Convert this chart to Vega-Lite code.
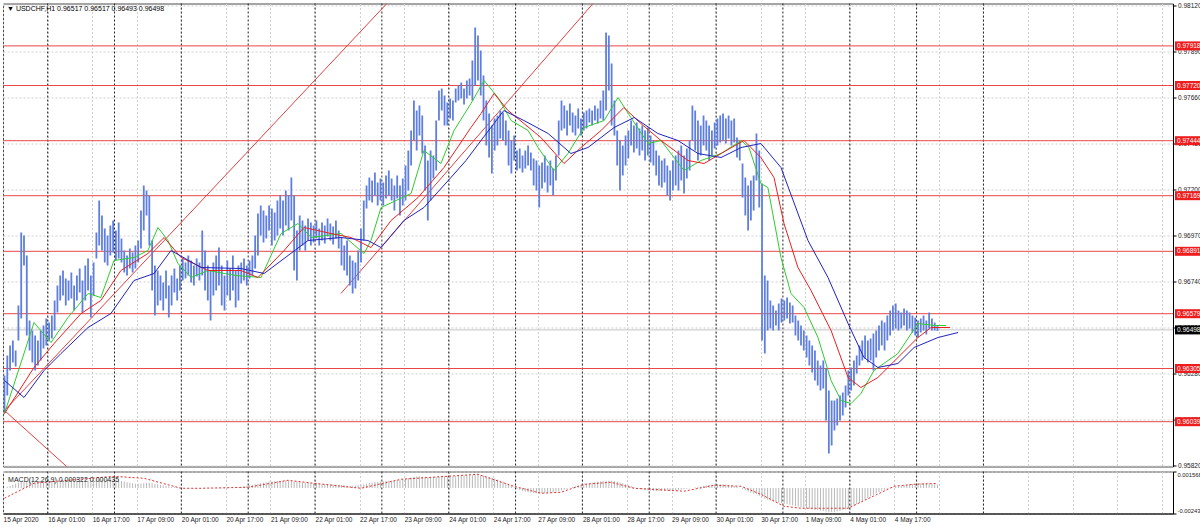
{
"$schema": "https://vega.github.io/schema/vega-lite/v6.json",
"background": "white",
"padding": {"left": 2, "top": 1.5, "right": 0, "bottom": 0},
"spacing": 1,
"config": {
 "font": "Liberation Sans",
 "view": {"stroke": "#4a4a4a", "strokeWidth": 1},
 "axis": {"labelFont": "Liberation Sans", "labelFontSize": 6.5, "labelColor": "#222", "tickColor": "#000", "domainColor": "#000", "gridColor": "#cfcfcf", "gridDash": [2, 2], "gridWidth": 1}
},
"datasets": {
 "seps": [{"i":15.5},{"i":39.5},{"i":63.5},{"i":87.5},{"i":111.5},{"i":135.5},{"i":159.5},{"i":183.5},{"i":207.5},{"i":231.5},{"i":255.5},{"i":279.5},{"i":303.5},{"i":327.5},{"i":351.5}],
 "levels": [{"p":0.97918},{"p":0.97720},{"p":0.97444},{"p":0.97169},{"p":0.96891},{"p":0.96579},{"p":0.96305},{"p":0.96039}],
 "bid": [{"p":0.96498}],
 "diag": [{"id":"A","i":0,"p":0.96095},{"id":"A","i":137.3,"p":0.98130},{"id":"B","i":120.8,"p":0.96680},{"id":"B","i":211.3,"p":0.98130},{"id":"C","i":0,"p":0.96095},{"id":"C","i":27.5,"p":0.95750}],
 "bars": [
{"i":0,"h":0.96270,"l":0.96080,"m":0},
{"i":1,"h":0.96370,"l":0.96170,"m":0.0001},
{"i":2,"h":0.96420,"l":0.96295,"m":0.0002},
{"i":3,"h":0.96445,"l":0.96335,"m":0.0003},
{"i":4,"h":0.96395,"l":0.96315,"m":0.0004},
{"i":5,"h":0.96620,"l":0.96445,"m":0.0005},
{"i":6,"h":0.96985,"l":0.96555,"m":0.0006},
{"i":7,"h":0.96970,"l":0.96820,"m":0.0006},
{"i":8,"h":0.96870,"l":0.96470,"m":0.00065},
{"i":9,"h":0.96545,"l":0.96395,"m":0.0007},
{"i":10,"h":0.96495,"l":0.96335,"m":0.0007},
{"i":11,"h":0.96470,"l":0.96295,"m":0.00068},
{"i":12,"h":0.96445,"l":0.96320,"m":0.00066},
{"i":13,"h":0.96495,"l":0.96345,"m":0.00064},
{"i":14,"h":0.96520,"l":0.96405,"m":0.00062},
{"i":15,"h":0.96555,"l":0.96420,"m":0.0006},
{"i":16,"h":0.96535,"l":0.96445,"m":0.0006},
{"i":17,"h":0.96570,"l":0.96455,"m":0.0006},
{"i":18,"h":0.96645,"l":0.96495,"m":0.00062},
{"i":19,"h":0.96720,"l":0.96585,"m":0.00065},
{"i":20,"h":0.96770,"l":0.96645,"m":0.00068},
{"i":21,"h":0.96795,"l":0.96670,"m":0.0007},
{"i":22,"h":0.96755,"l":0.96620,"m":0.0007},
{"i":23,"h":0.96745,"l":0.96645,"m":0.0007},
{"i":24,"h":0.96785,"l":0.96655,"m":0.0007},
{"i":25,"h":0.96720,"l":0.96595,"m":0.00068},
{"i":26,"h":0.96770,"l":0.96645,"m":0.00066},
{"i":27,"h":0.96805,"l":0.96685,"m":0.00066},
{"i":28,"h":0.96745,"l":0.96585,"m":0.00066},
{"i":29,"h":0.96820,"l":0.96645,"m":0.00068},
{"i":30,"h":0.96855,"l":0.96695,"m":0.0007},
{"i":31,"h":0.96770,"l":0.96560,"m":0.00075},
{"i":32,"h":0.96835,"l":0.96670,"m":0.0008},
{"i":33,"h":0.96985,"l":0.96855,"m":0.00082},
{"i":34,"h":0.97145,"l":0.96920,"m":0.00082},
{"i":35,"h":0.97070,"l":0.96895,"m":0.0008},
{"i":36,"h":0.97005,"l":0.96835,"m":0.0008},
{"i":37,"h":0.96970,"l":0.96820,"m":0.00078},
{"i":38,"h":0.97020,"l":0.96870,"m":0.00076},
{"i":39,"h":0.97045,"l":0.96885,"m":0.00074},
{"i":40,"h":0.96995,"l":0.96845,"m":0.00072},
{"i":41,"h":0.97035,"l":0.96855,"m":0.0007},
{"i":42,"h":0.96955,"l":0.96835,"m":0.00066},
{"i":43,"h":0.96895,"l":0.96785,"m":0.0006},
{"i":44,"h":0.96870,"l":0.96770,"m":0.00055},
{"i":45,"h":0.96905,"l":0.96805,"m":0.0005},
{"i":46,"h":0.96885,"l":0.96785,"m":0.00045},
{"i":47,"h":0.96920,"l":0.96805,"m":0.0004},
{"i":48,"h":0.96945,"l":0.96835,"m":0.0004},
{"i":49,"h":0.97095,"l":0.96905,"m":0.00042},
{"i":50,"h":0.97220,"l":0.96995,"m":0.00045},
{"i":51,"h":0.97195,"l":0.97070,"m":0.00048},
{"i":52,"h":0.97170,"l":0.96920,"m":0.0005},
{"i":53,"h":0.96945,"l":0.96695,"m":0.00045},
{"i":54,"h":0.96820,"l":0.96570,"m":0.0004},
{"i":55,"h":0.96795,"l":0.96620,"m":0.00035},
{"i":56,"h":0.96770,"l":0.96645,"m":0.0003},
{"i":57,"h":0.96735,"l":0.96595,"m":0.00025},
{"i":58,"h":0.96795,"l":0.96655,"m":0.0002},
{"i":59,"h":0.96720,"l":0.96560,"m":0.00015},
{"i":60,"h":0.96770,"l":0.96620,"m":0.0001},
{"i":61,"h":0.96805,"l":0.96685,"m":0.00008},
{"i":62,"h":0.96755,"l":0.96645,"m":0.00005},
{"i":63,"h":0.96820,"l":0.96695,"m":0.00003},
{"i":64,"h":0.96855,"l":0.96745,"m":0.00002},
{"i":65,"h":0.96835,"l":0.96755,"m":0},
{"i":66,"h":0.96870,"l":0.96770,"m":-0.00002},
{"i":67,"h":0.96845,"l":0.96735,"m":-0.00003},
{"i":68,"h":0.96820,"l":0.96720,"m":-0.00004},
{"i":69,"h":0.96855,"l":0.96765,"m":-0.00003},
{"i":70,"h":0.96835,"l":0.96745,"m":-0.00002},
{"i":71,"h":0.96995,"l":0.96770,"m":0},
{"i":72,"h":0.96895,"l":0.96695,"m":0.00002},
{"i":73,"h":0.96820,"l":0.96645,"m":0.00003},
{"i":74,"h":0.96795,"l":0.96545,"m":0.00002},
{"i":75,"h":0.96835,"l":0.96670,"m":0},
{"i":76,"h":0.96870,"l":0.96695,"m":-0.00002},
{"i":77,"h":0.96910,"l":0.96720,"m":-0.00003},
{"i":78,"h":0.96820,"l":0.96620,"m":-0.00004},
{"i":79,"h":0.96770,"l":0.96595,"m":-0.00004},
{"i":80,"h":0.96845,"l":0.96670,"m":-0.00003},
{"i":81,"h":0.96805,"l":0.96645,"m":-0.00002},
{"i":82,"h":0.96870,"l":0.96695,"m":0},
{"i":83,"h":0.96795,"l":0.96610,"m":0.00003},
{"i":84,"h":0.96820,"l":0.96645,"m":0.00005},
{"i":85,"h":0.96835,"l":0.96730,"m":0.0001},
{"i":86,"h":0.96855,"l":0.96745,"m":0.00015},
{"i":87,"h":0.96820,"l":0.96720,"m":0.0002},
{"i":88,"h":0.96845,"l":0.96755,"m":0.00025},
{"i":89,"h":0.96870,"l":0.96770,"m":0.0003},
{"i":90,"h":0.96970,"l":0.96805,"m":0.00035},
{"i":91,"h":0.97080,"l":0.96870,"m":0.0004},
{"i":92,"h":0.97120,"l":0.96970,"m":0.00045},
{"i":93,"h":0.97095,"l":0.96935,"m":0.0005},
{"i":94,"h":0.97070,"l":0.96955,"m":0.00055},
{"i":95,"h":0.97120,"l":0.96995,"m":0.0006},
{"i":96,"h":0.97105,"l":0.96920,"m":0.00062},
{"i":97,"h":0.97085,"l":0.96945,"m":0.00064},
{"i":98,"h":0.97145,"l":0.96970,"m":0.00066},
{"i":99,"h":0.97170,"l":0.97005,"m":0.00068},
{"i":100,"h":0.97145,"l":0.96970,"m":0.0007},
{"i":101,"h":0.97195,"l":0.97020,"m":0.0007},
{"i":102,"h":0.97170,"l":0.96995,"m":0.00068},
{"i":103,"h":0.97260,"l":0.97045,"m":0.00065},
{"i":104,"h":0.97170,"l":0.96795,"m":0.0006},
{"i":105,"h":0.96995,"l":0.96745,"m":0.00058},
{"i":106,"h":0.97070,"l":0.96895,"m":0.00055},
{"i":107,"h":0.97045,"l":0.96920,"m":0.00052},
{"i":108,"h":0.97020,"l":0.96895,"m":0.0005},
{"i":109,"h":0.97055,"l":0.96945,"m":0.00048},
{"i":110,"h":0.97035,"l":0.96920,"m":0.00046},
{"i":111,"h":0.97020,"l":0.96935,"m":0.00044},
{"i":112,"h":0.97045,"l":0.96955,"m":0.00042},
{"i":113,"h":0.97005,"l":0.96920,"m":0.0004},
{"i":114,"h":0.97035,"l":0.96945,"m":0.00038},
{"i":115,"h":0.97020,"l":0.96930,"m":0.00036},
{"i":116,"h":0.97055,"l":0.96965,"m":0.00035},
{"i":117,"h":0.97030,"l":0.96945,"m":0.00034},
{"i":118,"h":0.97015,"l":0.96925,"m":0.00033},
{"i":119,"h":0.97045,"l":0.96955,"m":0.00032},
{"i":120,"h":0.96995,"l":0.96905,"m":0.0003},
{"i":121,"h":0.96960,"l":0.96820,"m":0.00028},
{"i":122,"h":0.96920,"l":0.96795,"m":0.00025},
{"i":123,"h":0.96945,"l":0.96770,"m":0.00022},
{"i":124,"h":0.96870,"l":0.96720,"m":0.0002},
{"i":125,"h":0.96845,"l":0.96680,"m":0.0002},
{"i":126,"h":0.96835,"l":0.96705,"m":0.00022},
{"i":127,"h":0.96895,"l":0.96745,"m":0.00026},
{"i":128,"h":0.97005,"l":0.96835,"m":0.0003},
{"i":129,"h":0.97145,"l":0.96945,"m":0.00036},
{"i":130,"h":0.97220,"l":0.97105,"m":0.00042},
{"i":131,"h":0.97260,"l":0.97145,"m":0.00048},
{"i":132,"h":0.97245,"l":0.97135,"m":0.00052},
{"i":133,"h":0.97285,"l":0.97170,"m":0.00056},
{"i":134,"h":0.97235,"l":0.97120,"m":0.0006},
{"i":135,"h":0.97255,"l":0.97145,"m":0.00062},
{"i":136,"h":0.97235,"l":0.97120,"m":0.00064},
{"i":137,"h":0.97270,"l":0.97155,"m":0.00066},
{"i":138,"h":0.97295,"l":0.97170,"m":0.00068},
{"i":139,"h":0.97255,"l":0.97145,"m":0.0007},
{"i":140,"h":0.97220,"l":0.97095,"m":0.00072},
{"i":141,"h":0.97270,"l":0.97155,"m":0.00074},
{"i":142,"h":0.97220,"l":0.97070,"m":0.00078},
{"i":143,"h":0.97255,"l":0.97120,"m":0.00082},
{"i":144,"h":0.97320,"l":0.97145,"m":0.00088},
{"i":145,"h":0.97395,"l":0.97195,"m":0.00095},
{"i":146,"h":0.97495,"l":0.97320,"m":0.001},
{"i":147,"h":0.97645,"l":0.97445,"m":0.00105},
{"i":148,"h":0.97595,"l":0.97395,"m":0.0011},
{"i":149,"h":0.97620,"l":0.97470,"m":0.0011},
{"i":150,"h":0.97570,"l":0.97380,"m":0.00108},
{"i":151,"h":0.97420,"l":0.97195,"m":0.00104},
{"i":152,"h":0.97345,"l":0.97045,"m":0.001},
{"i":153,"h":0.97395,"l":0.97145,"m":0.00098},
{"i":154,"h":0.97370,"l":0.97255,"m":0.001},
{"i":155,"h":0.97545,"l":0.97295,"m":0.00104},
{"i":156,"h":0.97695,"l":0.97545,"m":0.00108},
{"i":157,"h":0.97705,"l":0.97595,"m":0.0011},
{"i":158,"h":0.97670,"l":0.97520,"m":0.00112},
{"i":159,"h":0.97635,"l":0.97520,"m":0.00112},
{"i":160,"h":0.97655,"l":0.97555,"m":0.0011},
{"i":161,"h":0.97645,"l":0.97545,"m":0.0011},
{"i":162,"h":0.97705,"l":0.97635,"m":0.00112},
{"i":163,"h":0.97720,"l":0.97645,"m":0.00114},
{"i":164,"h":0.97735,"l":0.97655,"m":0.00116},
{"i":165,"h":0.97705,"l":0.97625,"m":0.00118},
{"i":166,"h":0.97745,"l":0.97655,"m":0.0012},
{"i":167,"h":0.97755,"l":0.97670,"m":0.0012},
{"i":168,"h":0.97845,"l":0.97645,"m":0.00122},
{"i":169,"h":0.98010,"l":0.97720,"m":0.00125},
{"i":170,"h":0.97970,"l":0.97745,"m":0.00125},
{"i":171,"h":0.97895,"l":0.97670,"m":0.00122},
{"i":172,"h":0.97770,"l":0.97545,"m":0.00118},
{"i":173,"h":0.97645,"l":0.97420,"m":0.00112},
{"i":174,"h":0.97580,"l":0.97360,"m":0.00105},
{"i":175,"h":0.97520,"l":0.97280,"m":0.00098},
{"i":176,"h":0.97555,"l":0.97395,"m":0.0009},
{"i":177,"h":0.97570,"l":0.97420,"m":0.0008},
{"i":178,"h":0.97595,"l":0.97455,"m":0.0007},
{"i":179,"h":0.97585,"l":0.97445,"m":0.0006},
{"i":180,"h":0.97545,"l":0.97420,"m":0.00048},
{"i":181,"h":0.97495,"l":0.97320,"m":0.00035},
{"i":182,"h":0.97445,"l":0.97280,"m":0.0002},
{"i":183,"h":0.97470,"l":0.97345,"m":0.00005},
{"i":184,"h":0.97395,"l":0.97295,"m":-0.0001},
{"i":185,"h":0.97405,"l":0.97305,"m":-0.0002},
{"i":186,"h":0.97370,"l":0.97285,"m":-0.0003},
{"i":187,"h":0.97395,"l":0.97305,"m":-0.00036},
{"i":188,"h":0.97420,"l":0.97320,"m":-0.0004},
{"i":189,"h":0.97385,"l":0.97295,"m":-0.00044},
{"i":190,"h":0.97355,"l":0.97220,"m":-0.00048},
{"i":191,"h":0.97345,"l":0.97195,"m":-0.0005},
{"i":192,"h":0.97320,"l":0.97110,"m":-0.0005},
{"i":193,"h":0.97335,"l":0.97205,"m":-0.0005},
{"i":194,"h":0.97370,"l":0.97235,"m":-0.00048},
{"i":195,"h":0.97320,"l":0.97185,"m":-0.00046},
{"i":196,"h":0.97345,"l":0.97220,"m":-0.00044},
{"i":197,"h":0.97305,"l":0.97170,"m":-0.0004},
{"i":198,"h":0.97370,"l":0.97245,"m":-0.00035},
{"i":199,"h":0.97545,"l":0.97370,"m":-0.0003},
{"i":200,"h":0.97645,"l":0.97495,"m":-0.00022},
{"i":201,"h":0.97620,"l":0.97505,"m":-0.00015},
{"i":202,"h":0.97595,"l":0.97470,"m":-0.00008},
{"i":203,"h":0.97630,"l":0.97520,"m":0},
{"i":204,"h":0.97585,"l":0.97485,"m":0.00008},
{"i":205,"h":0.97570,"l":0.97470,"m":0.00015},
{"i":206,"h":0.97605,"l":0.97505,"m":0.00022},
{"i":207,"h":0.97555,"l":0.97470,"m":0.0003},
{"i":208,"h":0.97585,"l":0.97495,"m":0.00035},
{"i":209,"h":0.97595,"l":0.97505,"m":0.0004},
{"i":210,"h":0.97605,"l":0.97535,"m":0.00045},
{"i":211,"h":0.97595,"l":0.97520,"m":0.0005},
{"i":212,"h":0.97620,"l":0.97545,"m":0.00055},
{"i":213,"h":0.97605,"l":0.97530,"m":0.0006},
{"i":214,"h":0.97645,"l":0.97555,"m":0.00062},
{"i":215,"h":0.97695,"l":0.97545,"m":0.00065},
{"i":216,"h":0.97985,"l":0.97595,"m":0.00068},
{"i":217,"h":0.97970,"l":0.97695,"m":0.0007},
{"i":218,"h":0.97830,"l":0.97520,"m":0.0007},
{"i":219,"h":0.97645,"l":0.97470,"m":0.00066},
{"i":220,"h":0.97495,"l":0.97320,"m":0.0006},
{"i":221,"h":0.97445,"l":0.97195,"m":0.00052},
{"i":222,"h":0.97420,"l":0.97270,"m":0.00045},
{"i":223,"h":0.97470,"l":0.97320,"m":0.00036},
{"i":224,"h":0.97495,"l":0.97355,"m":0.00028},
{"i":225,"h":0.97545,"l":0.97420,"m":0.0002},
{"i":226,"h":0.97520,"l":0.97385,"m":0.0001},
{"i":227,"h":0.97535,"l":0.97405,"m":0},
{"i":228,"h":0.97505,"l":0.97370,"m":-0.00008},
{"i":229,"h":0.97520,"l":0.97395,"m":-0.00014},
{"i":230,"h":0.97495,"l":0.97345,"m":-0.0002},
{"i":231,"h":0.97510,"l":0.97370,"m":-0.00024},
{"i":232,"h":0.97470,"l":0.97335,"m":-0.00026},
{"i":233,"h":0.97445,"l":0.97320,"m":-0.00028},
{"i":234,"h":0.97395,"l":0.97270,"m":-0.0003},
{"i":235,"h":0.97370,"l":0.97220,"m":-0.0003},
{"i":236,"h":0.97345,"l":0.97210,"m":-0.0003},
{"i":237,"h":0.97355,"l":0.97235,"m":-0.00028},
{"i":238,"h":0.97320,"l":0.97170,"m":-0.00026},
{"i":239,"h":0.97295,"l":0.97145,"m":-0.00025},
{"i":240,"h":0.97345,"l":0.97195,"m":-0.00024},
{"i":241,"h":0.97370,"l":0.97220,"m":-0.00022},
{"i":242,"h":0.97395,"l":0.97195,"m":-0.0002},
{"i":243,"h":0.97420,"l":0.97245,"m":-0.00016},
{"i":244,"h":0.97370,"l":0.97180,"m":-0.00012},
{"i":245,"h":0.97405,"l":0.97255,"m":-0.00008},
{"i":246,"h":0.97445,"l":0.97295,"m":-0.00004},
{"i":247,"h":0.97620,"l":0.97445,"m":0},
{"i":248,"h":0.97595,"l":0.97395,"m":0.00005},
{"i":249,"h":0.97545,"l":0.97345,"m":0.0001},
{"i":250,"h":0.97520,"l":0.97370,"m":0.00015},
{"i":251,"h":0.97570,"l":0.97420,"m":0.0002},
{"i":252,"h":0.97545,"l":0.97395,"m":0.00025},
{"i":253,"h":0.97520,"l":0.97345,"m":0.0003},
{"i":254,"h":0.97495,"l":0.97370,"m":0.00033},
{"i":255,"h":0.97535,"l":0.97405,"m":0.00035},
{"i":256,"h":0.97555,"l":0.97420,"m":0.00036},
{"i":257,"h":0.97570,"l":0.97435,"m":0.00036},
{"i":258,"h":0.97580,"l":0.97445,"m":0.00035},
{"i":259,"h":0.97555,"l":0.97430,"m":0.00033},
{"i":260,"h":0.97570,"l":0.97455,"m":0.0003},
{"i":261,"h":0.97545,"l":0.97420,"m":0.00025},
{"i":262,"h":0.97555,"l":0.97435,"m":0.0002},
{"i":263,"h":0.97460,"l":0.97360,"m":0.00012},
{"i":264,"h":0.97445,"l":0.97345,"m":0},
{"i":265,"h":0.97330,"l":0.97160,"m":-0.0001},
{"i":266,"h":0.97260,"l":0.97070,"m":-0.00022},
{"i":267,"h":0.97220,"l":0.96995,"m":-0.00035},
{"i":268,"h":0.97245,"l":0.97045,"m":-0.00045},
{"i":269,"h":0.97270,"l":0.97095,"m":-0.00055},
{"i":270,"h":0.97480,"l":0.97245,"m":-0.0006},
{"i":271,"h":0.97395,"l":0.97110,"m":-0.00075},
{"i":272,"h":0.97230,"l":0.96445,"m":-0.0009},
{"i":273,"h":0.96770,"l":0.96380,"m":-0.00102},
{"i":274,"h":0.96745,"l":0.96495,"m":-0.00112},
{"i":275,"h":0.96645,"l":0.96505,"m":-0.0012},
{"i":276,"h":0.96620,"l":0.96495,"m":-0.00128},
{"i":277,"h":0.96595,"l":0.96520,"m":-0.00135},
{"i":278,"h":0.96630,"l":0.96495,"m":-0.0014},
{"i":279,"h":0.96655,"l":0.96535,"m":-0.00145},
{"i":280,"h":0.96645,"l":0.96545,"m":-0.0015},
{"i":281,"h":0.96660,"l":0.96555,"m":-0.00155},
{"i":282,"h":0.96635,"l":0.96530,"m":-0.0016},
{"i":283,"h":0.96620,"l":0.96535,"m":-0.00166},
{"i":284,"h":0.96570,"l":0.96470,"m":-0.00172},
{"i":285,"h":0.96545,"l":0.96445,"m":-0.00178},
{"i":286,"h":0.96520,"l":0.96420,"m":-0.00185},
{"i":287,"h":0.96495,"l":0.96395,"m":-0.0019},
{"i":288,"h":0.96470,"l":0.96360,"m":-0.00195},
{"i":289,"h":0.96445,"l":0.96320,"m":-0.002},
{"i":290,"h":0.96420,"l":0.96285,"m":-0.00205},
{"i":291,"h":0.96395,"l":0.96245,"m":-0.0021},
{"i":292,"h":0.96345,"l":0.96220,"m":-0.00212},
{"i":293,"h":0.96320,"l":0.96195,"m":-0.00215},
{"i":294,"h":0.96345,"l":0.96205,"m":-0.0022},
{"i":295,"h":0.96305,"l":0.96045,"m":-0.00225},
{"i":296,"h":0.96195,"l":0.95880,"m":-0.0023},
{"i":297,"h":0.96145,"l":0.95920,"m":-0.0023},
{"i":298,"h":0.96145,"l":0.95995,"m":-0.00228},
{"i":299,"h":0.96155,"l":0.96020,"m":-0.00224},
{"i":300,"h":0.96170,"l":0.96045,"m":-0.0022},
{"i":301,"h":0.96185,"l":0.96070,"m":-0.00212},
{"i":302,"h":0.96220,"l":0.96110,"m":-0.00205},
{"i":303,"h":0.96295,"l":0.96170,"m":-0.00195},
{"i":304,"h":0.96310,"l":0.96195,"m":-0.00182},
{"i":305,"h":0.96345,"l":0.96220,"m":-0.0017},
{"i":306,"h":0.96370,"l":0.96280,"m":-0.00155},
{"i":307,"h":0.96420,"l":0.96320,"m":-0.0014},
{"i":308,"h":0.96445,"l":0.96345,"m":-0.00125},
{"i":309,"h":0.96470,"l":0.96355,"m":-0.0011},
{"i":310,"h":0.96445,"l":0.96335,"m":-0.00095},
{"i":311,"h":0.96455,"l":0.96345,"m":-0.0008},
{"i":312,"h":0.96480,"l":0.96295,"m":-0.00065},
{"i":313,"h":0.96495,"l":0.96360,"m":-0.0005},
{"i":314,"h":0.96520,"l":0.96395,"m":-0.00038},
{"i":315,"h":0.96545,"l":0.96420,"m":-0.00026},
{"i":316,"h":0.96535,"l":0.96395,"m":-0.00015},
{"i":317,"h":0.96570,"l":0.96445,"m":-0.00006},
{"i":318,"h":0.96595,"l":0.96470,"m":0},
{"i":319,"h":0.96620,"l":0.96495,"m":0.00005},
{"i":320,"h":0.96630,"l":0.96505,"m":0.0001},
{"i":321,"h":0.96595,"l":0.96495,"m":0.00015},
{"i":322,"h":0.96585,"l":0.96505,"m":0.0002},
{"i":323,"h":0.96605,"l":0.96520,"m":0.00025},
{"i":324,"h":0.96595,"l":0.96495,"m":0.0003},
{"i":325,"h":0.96585,"l":0.96505,"m":0.00034},
{"i":326,"h":0.96570,"l":0.96485,"m":0.00038},
{"i":327,"h":0.96560,"l":0.96470,"m":0.0004},
{"i":328,"h":0.96545,"l":0.96460,"m":0.00042},
{"i":329,"h":0.96555,"l":0.96485,"m":0.00044},
{"i":330,"h":0.96570,"l":0.96495,"m":0.00045},
{"i":331,"h":0.96545,"l":0.96475,"m":0.00044},
{"i":332,"h":0.96585,"l":0.96505,"m":0.00042},
{"i":333,"h":0.96555,"l":0.96495,"m":0.0004},
{"i":334,"h":0.96535,"l":0.96495,"m":0.00036},
{"i":335,"h":0.96517,"l":0.96493,"m":0.000322}
 ],
 "ma": [
{"ma":"g","i":0,"p":0.9608},{"ma":"g","i":10.6,"p":0.96535},{"ma":"g","i":16.7,"p":0.96435},{"ma":"g","i":22.8,"p":0.9656},{"ma":"g","i":30,"p":0.9668},{"ma":"g","i":34.6,"p":0.9666},{"ma":"g","i":39.3,"p":0.96845},{"ma":"g","i":46.5,"p":0.9686},{"ma":"g","i":51.5,"p":0.96895},{"ma":"g","i":55.1,"p":0.9701},{"ma":"g","i":58.7,"p":0.96945},{"ma":"g","i":62.3,"p":0.9683},{"ma":"g","i":67,"p":0.9676},{"ma":"g","i":73.1,"p":0.96795},{"ma":"g","i":83.1,"p":0.9677},{"ma":"g","i":92.1,"p":0.9676},{"ma":"g","i":99.3,"p":0.9698},{"ma":"g","i":105.4,"p":0.9703},{"ma":"g","i":110.1,"p":0.9696},{"ma":"g","i":120.8,"p":0.9698},{"ma":"g","i":129.1,"p":0.9688},{"ma":"g","i":131.6,"p":0.96945},{"ma":"g","i":135.2,"p":0.9711},{"ma":"g","i":146,"p":0.9718},{"ma":"g","i":150.6,"p":0.97395},{"ma":"g","i":156.7,"p":0.9733},{"ma":"g","i":161.4,"p":0.97495},{"ma":"g","i":167.5,"p":0.9763},{"ma":"g","i":172.2,"p":0.97745},{"ma":"g","i":177.2,"p":0.9766},{"ma":"g","i":181.9,"p":0.97545},{"ma":"g","i":188,"p":0.97495},{"ma":"g","i":191.6,"p":0.9741},{"ma":"g","i":197.3,"p":0.97295},{"ma":"g","i":202.3,"p":0.9738},{"ma":"g","i":208.1,"p":0.9751},{"ma":"g","i":215.3,"p":0.97545},{"ma":"g","i":220.3,"p":0.9766},{"ma":"g","i":224.9,"p":0.9756},{"ma":"g","i":231.1,"p":0.9743},{"ma":"g","i":235.7,"p":0.97445},{"ma":"g","i":244,"p":0.97295},{"ma":"g","i":250.1,"p":0.97345},{"ma":"g","i":257.3,"p":0.9738},{"ma":"g","i":264.5,"p":0.97445},{"ma":"g","i":267.3,"p":0.9741},{"ma":"g","i":271.6,"p":0.9723},{"ma":"g","i":274.1,"p":0.9721},{"ma":"g","i":278.8,"p":0.9686},{"ma":"g","i":282.4,"p":0.9668},{"ma":"g","i":287.1,"p":0.9661},{"ma":"g","i":292.1,"p":0.9646},{"ma":"g","i":296.8,"p":0.96245},{"ma":"g","i":300.4,"p":0.96145},{"ma":"g","i":304,"p":0.9613},{"ma":"g","i":307.5,"p":0.9618},{"ma":"g","i":312.2,"p":0.96295},{"ma":"g","i":320.8,"p":0.9638},{"ma":"g","i":328,"p":0.9653},{"ma":"g","i":333.8,"p":0.9652},{"ma":"g","i":338.1,"p":0.9652},
{"ma":"r","i":0,"p":0.9608},{"ma":"r","i":10.6,"p":0.9631},{"ma":"r","i":17.8,"p":0.9643},{"ma":"r","i":27.5,"p":0.9658},{"ma":"r","i":34.6,"p":0.96645},{"ma":"r","i":41.8,"p":0.96795},{"ma":"r","i":51.5,"p":0.9688},{"ma":"r","i":57.3,"p":0.9696},{"ma":"r","i":63.4,"p":0.9686},{"ma":"r","i":73.1,"p":0.96795},{"ma":"r","i":84.9,"p":0.96795},{"ma":"r","i":91,"p":0.9676},{"ma":"r","i":100.4,"p":0.96895},{"ma":"r","i":107.5,"p":0.9701},{"ma":"r","i":117.2,"p":0.9698},{"ma":"r","i":124.4,"p":0.9696},{"ma":"r","i":131.6,"p":0.9691},{"ma":"r","i":138.8,"p":0.97045},{"ma":"r","i":148.5,"p":0.9716},{"ma":"r","i":157.8,"p":0.9731},{"ma":"r","i":167.5,"p":0.9751},{"ma":"r","i":171.1,"p":0.9758},{"ma":"r","i":175.8,"p":0.9768},{"ma":"r","i":180.8,"p":0.97595},{"ma":"r","i":186.5,"p":0.9753},{"ma":"r","i":192.6,"p":0.9746},{"ma":"r","i":200.9,"p":0.9733},{"ma":"r","i":207,"p":0.9741},{"ma":"r","i":214.2,"p":0.97495},{"ma":"r","i":222.4,"p":0.9761},{"ma":"r","i":228.5,"p":0.9753},{"ma":"r","i":235.7,"p":0.97445},{"ma":"r","i":245.4,"p":0.97345},{"ma":"r","i":251.2,"p":0.9733},{"ma":"r","i":257.3,"p":0.9738},{"ma":"r","i":265.5,"p":0.97445},{"ma":"r","i":271.6,"p":0.9736},{"ma":"r","i":276.3,"p":0.9726},{"ma":"r","i":279.9,"p":0.9703},{"ma":"r","i":284.9,"p":0.9681},{"ma":"r","i":289.6,"p":0.96695},{"ma":"r","i":296.8,"p":0.96495},{"ma":"r","i":302.9,"p":0.9626},{"ma":"r","i":307.5,"p":0.9621},{"ma":"r","i":313.6,"p":0.9626},{"ma":"r","i":320.8,"p":0.9636},{"ma":"r","i":328,"p":0.9646},{"ma":"r","i":332.7,"p":0.9651},{"ma":"r","i":339.5,"p":0.9651},
{"ma":"b","i":0,"p":0.96245},{"ma":"b","i":7,"p":0.9616},{"ma":"b","i":14.2,"p":0.96295},{"ma":"b","i":20.3,"p":0.9638},{"ma":"b","i":30,"p":0.9651},{"ma":"b","i":38.2,"p":0.9658},{"ma":"b","i":46.5,"p":0.96745},{"ma":"b","i":53.7,"p":0.9678},{"ma":"b","i":59.8,"p":0.96895},{"ma":"b","i":70.6,"p":0.9681},{"ma":"b","i":84.9,"p":0.96805},{"ma":"b","i":93.2,"p":0.9678},{"ma":"b","i":109,"p":0.96945},{"ma":"b","i":120.8,"p":0.9696},{"ma":"b","i":130.5,"p":0.96945},{"ma":"b","i":135.2,"p":0.9691},{"ma":"b","i":143.4,"p":0.97045},{"ma":"b","i":150.6,"p":0.9711},{"ma":"b","i":160.3,"p":0.9726},{"ma":"b","i":165.7,"p":0.97345},{"ma":"b","i":171.1,"p":0.97445},{"ma":"b","i":179.3,"p":0.97595},{"ma":"b","i":186.5,"p":0.97545},{"ma":"b","i":195.2,"p":0.9748},{"ma":"b","i":203.4,"p":0.9738},{"ma":"b","i":209.5,"p":0.9741},{"ma":"b","i":218.9,"p":0.9751},{"ma":"b","i":226.1,"p":0.9756},{"ma":"b","i":234.6,"p":0.9748},{"ma":"b","i":241.8,"p":0.97445},{"ma":"b","i":249,"p":0.9738},{"ma":"b","i":257.3,"p":0.9736},{"ma":"b","i":264.5,"p":0.9741},{"ma":"b","i":271.6,"p":0.9743},{"ma":"b","i":278.8,"p":0.9731},{"ma":"b","i":288.5,"p":0.96945},{"ma":"b","i":295.7,"p":0.9676},{"ma":"b","i":302.9,"p":0.9653},{"ma":"b","i":308.6,"p":0.9636},{"ma":"b","i":313.6,"p":0.9631},{"ma":"b","i":320.8,"p":0.9633},{"ma":"b","i":326.6,"p":0.9641},{"ma":"b","i":335.2,"p":0.9646},{"ma":"b","i":342.4,"p":0.96485}
 ],
 "sig": [
{"i":0,"s":-0.00098},{"i":10.6,"s":0.00045},{"i":39.3,"s":0.00111},{"i":50.1,"s":0.00092},{"i":63.4,"s":-0.00003},{"i":70.6,"s":-0.00003},{"i":87.4,"s":0.00007},{"i":101.8,"s":0.00073},{"i":111.1,"s":0.00045},{"i":128,"s":-0.00003},{"i":142.4,"s":0.00083},{"i":170,"s":0.0013},{"i":182.9,"s":0.00016},{"i":192.6,"s":-0.0005},{"i":199.8,"s":-0.00041},{"i":208.1,"s":0.00035},{"i":217.8,"s":0.00054},{"i":226.1,"s":-0.00003},{"i":244,"s":-0.00031},{"i":254.8,"s":0.00026},{"i":264.5,"s":0.00016},{"i":271.6,"s":-0.0006},{"i":279.9,"s":-0.00174},{"i":286,"s":-0.00193},{"i":302.9,"s":-0.00193},{"i":319.4,"s":0.00016},{"i":326.6,"s":0.00035},{"i":335,"s":0.000435}
 ]
},
"vconcat": [
 {
  "width": 1170, "height": 463,
  "layer": [
   {"data": {"name": "seps"}, "mark": {"type": "rule", "color": "#222", "strokeDash": [2, 2], "strokeWidth": 1},
    "encoding": {"x": {"field": "i", "type": "quantitative", "title": null, "scale": {"domain": [-0.54, 419.57], "nice": false, "zero": false},
      "axis": {"values": [-0.5,7.5,15.5,23.5,31.5,39.5,47.5,55.5,63.5,71.5,79.5,87.5,95.5,103.5,111.5,119.5,127.5,135.5,143.5,151.5,159.5,167.5,175.5,183.5,191.5,199.5,207.5,215.5,223.5,231.5,239.5,247.5,255.5,263.5,271.5,279.5,287.5,295.5,303.5,311.5,319.5,327.5,335.5,343.5,351.5,359.5,367.5,375.5,383.5,391.5,399.5,407.5,415.5], "grid": true, "gridColor": "#cfcfcf", "labels": false, "ticks": false, "domain": false, "title": null, "minExtent": 0, "maxExtent": 0}}}},
   {"data": {"name": "levels"}, "mark": {"type": "rule", "color": "#e84848", "strokeWidth": 1},
    "encoding": {"y": {"field": "p", "type": "quantitative", "title": null, "scale": {"domain": [0.95815, 0.98130], "nice": false, "zero": false},
      "axis": {"orient": "right", "values": [0.9582,0.95935,0.9605,0.96165,0.9628,0.96395,0.9651,0.96625,0.9674,0.96855,0.9697,0.97085,0.972,0.97315,0.9743,0.97545,0.9766,0.97775,0.9789,0.98005,0.9812], "format": ".5f", "grid": true, "gridColor": "#cfcfcf", "labelOverlap": false, "tickSize": 3, "labelPadding": 1.5, "title": null}}}},
   {"data": {"name": "bid"}, "mark": {"type": "rule", "color": "#c4c4c4", "strokeWidth": 1},
    "encoding": {"y": {"field": "p", "type": "quantitative", "title": null, "scale": {"domain": [0.95815, 0.98130], "nice": false, "zero": false}}}},
   {"data": {"name": "diag"}, "mark": {"type": "line", "color": "#e04040", "strokeWidth": 1, "clip": true},
    "encoding": {"x": {"field": "i", "type": "quantitative", "title": null, "scale": {"domain": [-0.54, 419.57], "nice": false, "zero": false}},
      "y": {"field": "p", "type": "quantitative", "title": null, "scale": {"domain": [0.95815, 0.98130], "nice": false, "zero": false}},
      "detail": {"field": "id"}}},
   {"data": {"name": "bars"}, "mark": {"type": "rule", "color": "#5f7fe0", "strokeWidth": 1.8},
    "encoding": {"x": {"field": "i", "type": "quantitative", "title": null, "scale": {"domain": [-0.54, 419.57], "nice": false, "zero": false}},
      "y": {"field": "h", "type": "quantitative", "title": null, "scale": {"domain": [0.95815, 0.98130], "nice": false, "zero": false}},
      "y2": {"field": "l"}}},
   {"data": {"name": "ma"}, "mark": {"type": "line", "strokeWidth": 1},
    "encoding": {"x": {"field": "i", "type": "quantitative", "title": null, "scale": {"domain": [-0.54, 419.57], "nice": false, "zero": false}},
      "y": {"field": "p", "type": "quantitative", "title": null, "scale": {"domain": [0.95815, 0.98130], "nice": false, "zero": false}},
      "color": {"field": "ma", "type": "nominal", "scale": {"domain": ["g", "r", "b"], "range": ["#2ecc2e", "#e82020", "#2222c0"]}, "legend": null}}},
   {"data": {"name": "levels"}, "mark": {"type": "tick", "orient": "horizontal", "color": "#ee1c1c", "size": 26, "thickness": 9, "opacity": 1},
    "encoding": {"x": {"datum": 424.95}, "y": {"field": "p", "type": "quantitative", "title": null, "scale": {"domain": [0.95815, 0.98130], "nice": false, "zero": false}}}},
   {"data": {"name": "levels"}, "mark": {"type": "text", "color": "#ffffff", "align": "left", "baseline": "middle", "fontSize": 6.5, "font": "Liberation Sans"},
    "encoding": {"x": {"datum": 421.0}, "y": {"field": "p", "type": "quantitative", "title": null, "scale": {"domain": [0.95815, 0.98130], "nice": false, "zero": false}}, "text": {"field": "p", "type": "quantitative", "format": ".5f"}}},
   {"data": {"name": "bid"}, "mark": {"type": "tick", "orient": "horizontal", "color": "#000000", "size": 26, "thickness": 9, "opacity": 1},
    "encoding": {"x": {"datum": 424.95}, "y": {"field": "p", "type": "quantitative", "title": null, "scale": {"domain": [0.95815, 0.98130], "nice": false, "zero": false}}}},
   {"data": {"name": "bid"}, "mark": {"type": "text", "color": "#ffffff", "align": "left", "baseline": "middle", "fontSize": 6.5, "font": "Liberation Sans"},
    "encoding": {"x": {"datum": 421.0}, "y": {"field": "p", "type": "quantitative", "title": null, "scale": {"domain": [0.95815, 0.98130], "nice": false, "zero": false}}, "text": {"field": "p", "type": "quantitative", "format": ".5f"}}},
   {"data": {"values": [{"t": "▼  USDCHF,H1  0.96517 0.96517 0.96493 0.96498"}]}, "mark": {"type": "text", "color": "#000000", "align": "left", "baseline": "middle", "fontSize": 7, "font": "Liberation Sans"},
    "encoding": {"x": {"datum": 0.9}, "y": {"datum": 0.98105}, "text": {"field": "t"}}}
  ]
 },
 {
  "width": 1170, "height": 42,
  "layer": [
   {"data": {"name": "seps"}, "mark": {"type": "rule", "color": "#222", "strokeDash": [2, 2], "strokeWidth": 1},
    "encoding": {"x": {"field": "i", "type": "quantitative", "title": null, "scale": {"domain": [-0.54, 419.57], "nice": false, "zero": false},
      "axis": {"values": [-0.5,7.5,15.5,23.5,31.5,39.5,47.5,55.5,63.5,71.5,79.5,87.5,95.5,103.5,111.5,119.5,127.5,135.5,143.5,151.5,159.5,167.5,175.5,183.5,191.5,199.5,207.5,215.5,223.5,231.5,239.5,247.5,255.5,263.5,271.5,279.5,287.5,295.5,303.5,311.5,319.5,327.5,335.5,343.5,351.5,359.5,367.5,375.5,383.5,391.5,399.5,407.5,415.5], "grid": true, "gridColor": "#cfcfcf", "ticks": false, "domain": true, "labelAlign": "left", "labelPadding": 3, "labelOverlap": false, "labelFlush": false, "title": null,
        "labelExpr": "((datum.value + 0.5) % 16 == 0 && datum.value < 330) ? ['15 Apr 2020','16 Apr 01:00','16 Apr 17:00','17 Apr 09:00','20 Apr 01:00','20 Apr 17:00','21 Apr 09:00','22 Apr 01:00','22 Apr 17:00','23 Apr 09:00','24 Apr 01:00','24 Apr 17:00','27 Apr 09:00','28 Apr 01:00','28 Apr 17:00','29 Apr 09:00','30 Apr 01:00','30 Apr 17:00','1 May 09:00','4 May 01:00','4 May 17:00'][(datum.value + 0.5) / 16] : ''"}}}},
   {"data": {"name": "bars"}, "mark": {"type": "rule", "color": "#b8b8b8", "strokeWidth": 1},
    "encoding": {"x": {"field": "i", "type": "quantitative", "title": null, "scale": {"domain": [-0.54, 419.57], "nice": false, "zero": false}},
      "y": {"field": "m", "type": "quantitative", "title": null, "scale": {"domain": [-0.00243, 0.001568], "nice": false, "zero": false},
        "axis": {"orient": "right", "values": [-0.00243, 0, 0.001568], "labelExpr": "datum.value > 0.001 ? '0.001568' : (datum.value < -0.002 ? '-0.00243' : '0.00')", "labelFlush": true, "labelOverlap": false, "labelFontSize": 5.8, "grid": true, "gridColor": "#cfcfcf", "tickSize": 3, "labelPadding": 1, "title": null}},
      "y2": {"datum": 0}}},
   {"data": {"name": "sig"}, "mark": {"type": "line", "color": "#e03030", "strokeWidth": 1, "strokeDash": [2, 2]},
    "encoding": {"x": {"field": "i", "type": "quantitative", "title": null, "scale": {"domain": [-0.54, 419.57], "nice": false, "zero": false}},
      "y": {"field": "s", "type": "quantitative", "title": null, "scale": {"domain": [-0.00243, 0.001568], "nice": false, "zero": false}}}},
   {"data": {"values": [{"t": "MACD(12,26,9) 0.000322 0.000435"}]}, "mark": {"type": "text", "color": "#222222", "align": "left", "baseline": "middle", "fontSize": 7, "font": "Liberation Sans"},
    "encoding": {"x": {"datum": 1.3}, "y": {"datum": 0.0008}, "text": {"field": "t"}}}
  ]
 }
],
"resolve": {"scale": {"x": "independent", "y": "independent"}, "axis": {"x": "independent", "y": "independent"}}
}
